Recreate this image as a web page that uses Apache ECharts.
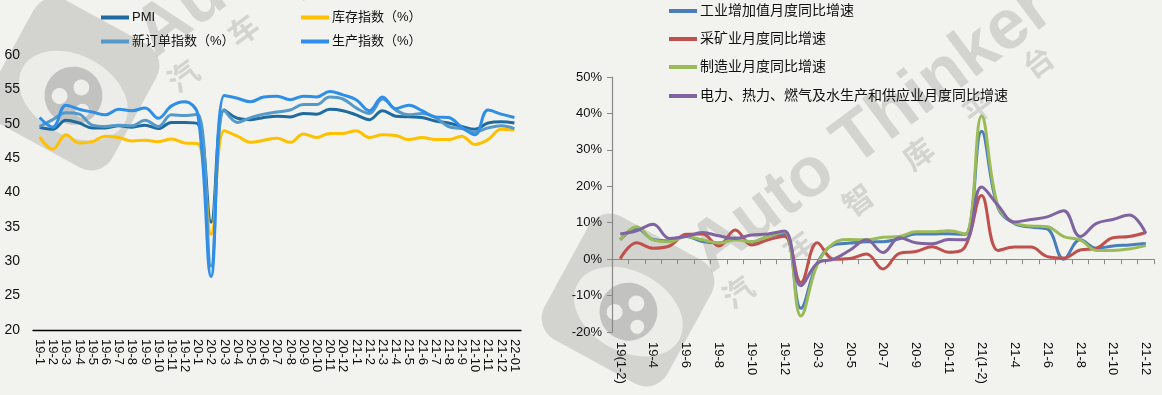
<!DOCTYPE html>
<html>
<head>
<meta charset="utf-8">
<script src="https://cdn.jsdelivr.net/npm/echarts@6/dist/echarts.min.js"></script>
<style>
html,body{margin:0;padding:0;background:#f2f3ee;}
#c{width:1162px;height:395px;}
</style>
</head>
<body>
<div id="c"></div>
<script>
// ---------- Left chart data (PMI) ----------
var leftCats = ['19-1','19-2','19-3','19-4','19-5','19-6','19-7','19-8','19-9','19-10','19-11','19-12',
  '20-1','20-2','20-3','20-4','20-5','20-6','20-7','20-8','20-9','20-10','20-11','20-12',
  '21-1','21-2','21-3','21-4','21-5','21-6','21-7','21-8','21-9','21-10','21-11','21-12','22-01'];
var pmi = [49.5,49.2,50.5,50.1,49.4,49.4,49.7,49.5,49.8,49.3,50.2,50.2,
  50.0,35.7,52.0,50.8,50.6,50.9,51.1,51.0,51.5,51.4,52.1,51.9,
  51.3,50.6,51.9,51.1,51.0,50.9,50.4,50.1,49.6,49.2,50.1,50.3,50.1];
var inventory = [48.1,46.3,48.4,47.2,47.4,48.2,48.0,47.5,47.6,47.4,47.8,47.2,
  47.1,33.9,49.0,48.2,47.3,47.6,47.9,47.3,48.5,48.0,48.6,48.6,
  49.0,48.0,48.4,48.3,47.7,48.0,47.7,47.7,48.2,47.0,47.7,49.2,49.1];
var newOrders = [49.6,50.6,51.6,51.4,49.8,49.6,49.8,49.7,50.5,49.6,51.3,51.2,
  51.4,29.3,52.0,50.2,50.9,51.4,51.7,52.0,52.8,52.8,53.9,53.6,
  52.3,51.5,53.6,52.0,51.3,51.5,50.9,49.6,49.3,48.8,49.4,49.7,49.3];
var production = [50.9,49.5,52.7,52.1,51.7,51.3,52.1,51.9,52.3,50.8,52.6,53.2,
  51.3,27.8,54.1,53.7,53.2,53.9,54.0,53.5,54.0,53.9,54.7,54.2,
  53.5,51.9,53.9,52.2,52.7,51.9,51.0,50.9,49.5,48.4,52.0,51.4,50.9];
var leftYTicks = {min: 20, max: 60, step: 5};

// ---------- Right chart data (industrial growth, %) ----------
var rightCats = ['19(1-2)','19-3','19-4','19-5','19-6','19-7','19-8','19-9','19-10','19-11','19-12',
  '20(1-2)','20-3','20-4','20-5','20-6','20-7','20-8','20-9','20-10','20-11','20-12',
  '21(1-2)','21-3','21-4','21-5','21-6','21-7','21-8','21-9','21-10','21-11','21-12'];
var industry = [5.3,8.5,5.4,5.0,6.3,4.8,4.4,5.8,4.7,6.2,6.9,
  -13.5,-1.1,3.9,4.4,4.8,4.8,5.6,6.9,6.9,7.0,6.8,
  35.1,14.1,9.8,8.8,8.3,0.0,5.3,3.0,3.6,3.9,4.3];
var mining = [0.1,4.5,3.0,3.6,6.8,6.9,3.6,8.0,3.9,5.3,6.3,
  -6.4,4.5,0.0,0.2,1.4,-2.7,1.6,2.1,3.4,1.9,3.4,
  17.5,2.4,3.3,3.3,0.7,0.3,2.5,3.0,5.9,6.2,7.3];
var manufacturing = [5.3,8.9,5.3,4.8,6.2,5.3,4.4,5.3,4.8,6.2,7.5,
  -15.6,-1.5,4.4,5.4,5.3,6.0,6.2,7.5,7.5,7.8,6.9,
  39.3,14.5,10.0,9.1,8.9,6.2,5.3,2.4,2.4,2.8,3.7];
var utilities = [6.9,7.8,9.6,5.7,6.2,7.3,6.4,5.7,6.6,6.9,7.7,
  -7.3,-1.1,0.0,2.5,5.3,1.8,5.9,4.5,4.2,5.4,5.3,
  19.8,14.8,10.2,10.9,11.6,13.3,6.2,9.8,10.9,12.1,7.1];
var rightYTicks = {min: -20, max: 50, step: 10};

var leftNames = ['PMI','库存指数（%）','新订单指数（%）','生产指数（%）'];
var rightNames = ['工业增加值月度同比增速','采矿业月度同比增速','制造业月度同比增速','电力、热力、燃气及水生产和供应业月度同比增速'];

var FONT = '"Liberation Sans", Arial, "Noto Sans CJK SC", sans-serif';
var leftColors = ['#1f6b9f','#ffc000','#5599c9','#2f8ee8'];
var rightColors = ['#4a7ebb','#c0504d','#9bbb59','#8064a2'];

// ---------- watermark ----------
function watermark(dx, dy) {
  var wm = 'rgba(170,170,166,0.42)';
  var els = [];
  els.push({
    type: 'group', x: 628 + dx, y: 300 + dy, rotation: -0.5, z: 0, silent: true,
    children: [
      {type: 'rect', shape: {x: -70, y: -70, width: 140, height: 140, r: 24}, style: {fill: 'rgba(185,185,182,0.55)'}},
      {type: 'ellipse', shape: {cx: 6, cy: 10, rx: 58, ry: 40}, style: {fill: 'rgba(240,240,236,0.85)'}},
      {type: 'circle', shape: {cx: 6, cy: 10, r: 29}, style: {fill: 'rgba(190,190,187,0.9)'}},
      {type: 'circle', shape: {cx: 9, cy: -1, r: 8}, style: {fill: 'rgba(240,240,236,0.95)'}},
      {type: 'circle', shape: {cx: -6, cy: 17, r: 8}, style: {fill: 'rgba(240,240,236,0.95)'}},
      {type: 'circle', shape: {cx: 21, cy: 19, r: 7}, style: {fill: 'rgba(240,240,236,0.95)'}}
    ]
  });
  els.push({
    type: 'text', x: 872 + dx, y: 130 + dy, rotation: 0.64, z: 0, silent: true,
    style: {text: 'Auto Thinker', fill: wm, font: 'bold 70px "Liberation Sans", Arial, sans-serif', align: 'center', verticalAlign: 'middle'}
  });
  var chars = ['汽','车','智','库','平','台'];
  for (var i = 0; i < chars.length; i++) {
    els.push({
      type: 'text', x: 738 + dx + i * 60, y: 292 + dy - i * 46, rotation: 0.64, z: 0, silent: true,
      style: {text: chars[i], fill: wm, font: 'bold 30px "Noto Sans CJK SC", sans-serif', align: 'center', verticalAlign: 'middle'}
    });
  }
  return els;
}

var chart = echarts.init(document.getElementById('c'), null, {renderer: 'canvas'});

function legendAt(name, left, top, size) {
  return {
    data: [name], left: left, top: top, padding: 0, orient: 'horizontal',
    icon: 'rect', itemWidth: 28, itemHeight: 4, selectedMode: false,
    textStyle: {fontFamily: FONT, fontSize: size, color: '#111', padding: [0, 0, 0, -2]}
  };
}

var legends = [
  legendAt(leftNames[0], 101, 11, 13),
  legendAt(leftNames[1], 301, 11, 13),
  legendAt(leftNames[2], 101, 35, 13),
  legendAt(leftNames[3], 301, 35, 13),
  legendAt(rightNames[0], 669, 4, 14),
  legendAt(rightNames[1], 669, 32, 14),
  legendAt(rightNames[2], 669, 60, 14),
  legendAt(rightNames[3], 669, 89, 14)
];

function mkSeries(name, data, color, xi) {
  return {
    name: name, type: 'line', data: data, xAxisIndex: xi, yAxisIndex: xi,
    smooth: 0.4, symbol: 'none', color: color,
    lineStyle: {width: 3, color: color}, z: 3
  };
}

var option = {
  backgroundColor: '#f2f3ee',
  animation: false,
  graphic: watermark(0, 0).concat(watermark(-555, -216)),
  legend: legends,
  grid: [
    {left: 33, right: 641, top: 55, bottom: 65, containLabel: false},
    {left: 612, right: 8, top: 77, bottom: 63, containLabel: false}
  ],
  xAxis: [
    {
      type: 'category', gridIndex: 0, data: leftCats, boundaryGap: true,
      axisLine: {show: true, lineStyle: {color: '#000', width: 1.3}},
      axisTick: {show: false},
      axisLabel: {interval: 0, rotate: -90, fontFamily: FONT, fontSize: 13, color: '#111', margin: 9}
    },
    {
      type: 'category', gridIndex: 1, data: rightCats, boundaryGap: true,
      axisLine: {show: true, lineStyle: {color: '#888', width: 1.2}},
      axisTick: {show: true, alignWithLabel: false, interval: 0, length: 5, lineStyle: {color: '#888'}},
      axisLabel: {interval: 1, rotate: -90, fontFamily: FONT, fontSize: 13, color: '#111', margin: 10}
    }
  ],
  yAxis: [
    {
      type: 'value', gridIndex: 0, min: leftYTicks.min, max: leftYTicks.max, interval: leftYTicks.step,
      axisLine: {show: false}, axisTick: {show: false}, splitLine: {show: false},
      axisLabel: {fontFamily: FONT, fontSize: 14, color: '#111', margin: 13}
    },
    {
      type: 'value', gridIndex: 1, min: rightYTicks.min, max: rightYTicks.max, interval: rightYTicks.step,
      axisLine: {show: true, lineStyle: {color: '#888', width: 1.2}},
      axisTick: {show: true, length: 5, lineStyle: {color: '#888'}},
      splitLine: {show: false},
      axisLabel: {formatter: '{value}%', fontFamily: FONT, fontSize: 13, color: '#111', margin: 10}
    }
  ],
  series: [
    mkSeries(leftNames[0], pmi, leftColors[0], 0),
    mkSeries(leftNames[1], inventory, leftColors[1], 0),
    mkSeries(leftNames[2], newOrders, leftColors[2], 0),
    mkSeries(leftNames[3], production, leftColors[3], 0),
    mkSeries(rightNames[0], industry, rightColors[0], 1),
    mkSeries(rightNames[1], mining, rightColors[1], 1),
    mkSeries(rightNames[2], manufacturing, rightColors[2], 1),
    mkSeries(rightNames[3], utilities, rightColors[3], 1)
  ]
};
chart.setOption(option);
</script>
</body>
</html>
